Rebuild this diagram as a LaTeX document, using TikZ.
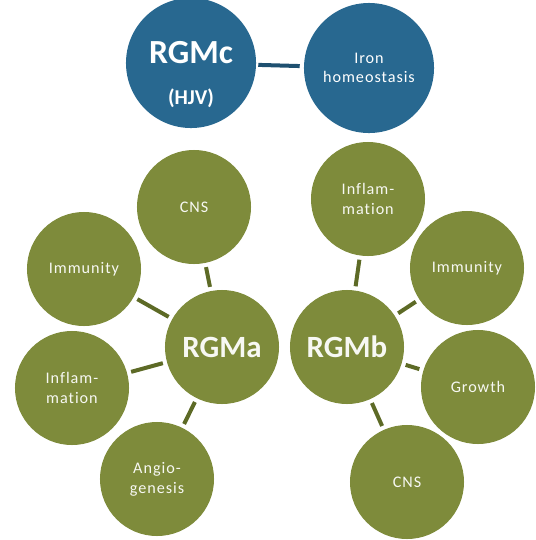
\documentclass[tikz,border=0pt]{standalone}
\usepackage{fontspec}
\setmainfont{Carlito}
\newfontfamily\labelfont{Carlito}[LetterSpace=6, Ligatures=NoCommon]
\usepackage{tikz}
\definecolor{rgmblue}{HTML}{286890}
\definecolor{rgmbluedark}{HTML}{1E5070}
\definecolor{rgmgreen}{HTML}{7E8B3B}
\definecolor{rgmgreendark}{HTML}{5D6A26}

\begin{document}
\begin{tikzpicture}[x=0.025cm, y=-0.025cm,
  hub/.style={circle, fill=rgmblue, text=white, minimum size=3.25cm, inner sep=0pt, align=center},
  topic/.style={circle, fill=rgmgreen, text=white!94!rgmgreen, minimum size=2.85cm, inner sep=0pt, align=center, font=\labelfont\fontsize{11.5}{14}\selectfont},
  core/.style={topic, font=\bfseries\fontsize{22}{26}\selectfont},
  link/.style={line width=0.1cm, draw=rgmgreendark, shorten <=0.1cm, shorten >=0.1cm}]

  \useasboundingbox (0,0) rectangle (536,540);

  % RGMc and iron
  \node[hub] (rgmc) at (191,63) {\rule{0pt}{1.15cm}\bfseries\fontsize{24}{26}\selectfont RGMc\\[0.6cm]\bfseries\fontsize{15}{17}\selectfont (HJV)};
  \node[hub, font=\labelfont\fontsize{11.5}{14}\selectfont] (iron) at (369,68) {Iron\\homeostasis};
  \draw[link, draw=rgmbluedark, shorten <=0.05cm, shorten >=0.1cm] (rgmc) -- (iron);

  % RGMa
  \node[core] (rgma) at (222,347) {RGMa};
  \node[topic] (a-cns) at (194,207) {CNS};
  \node[topic] (a-imm) at (84,269) {Immunity};
  \node[topic] (a-infl) at (72,388) {Inflam-\\mation};
  \node[topic] (a-angio) at (157,479) {Angio-\\genesis};
  \foreach \t in {a-cns, a-imm, a-infl, a-angio}
    \draw[link] (rgma) -- (\t);

  % RGMb
  \node[core] (rgmb) at (347,347) {RGMb};
  \node[topic] (b-infl) at (368,199) {Inflam-\\mation};
  \node[topic] (b-imm) at (467,268) {Immunity};
  \node[topic] (b-grow) at (478,387) {Growth};
  \node[topic] (b-cns) at (407,482) {CNS};
  \foreach \t in {b-infl, b-imm, b-grow, b-cns}
    \draw[link] (rgmb) -- (\t);

\end{tikzpicture}
\end{document}
